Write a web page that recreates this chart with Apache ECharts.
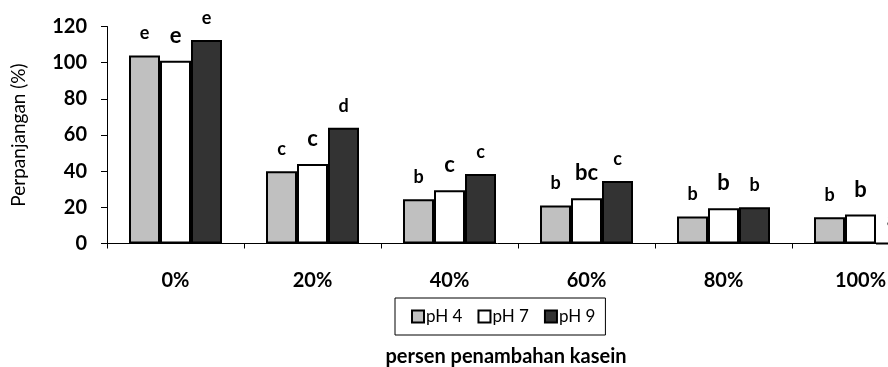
<!DOCTYPE html>
<html>
<head>
<meta charset="utf-8">
<script src="https://cdn.jsdelivr.net/npm/echarts@6/dist/echarts.min.js"></script>
<style>
  html, body { margin: 0; padding: 0; background: #fff; }
  #chart { width: 888px; height: 367px; }
</style>
</head>
<body>
<div id="chart"></div>
<script>
// Casein addition levels (x categories)
const categories = ['0%', '20%', '40%', '60%', '80%', '100%'];

// Elongation (%) per pH
const pH4 = [104, 40, 24.5, 21, 15, 14.5];
const pH7 = [101, 44, 29.5, 25, 19.5, 16];
const pH9 = [112.5, 64, 38.5, 34.5, 20, 0];

// Significance letters above each bar
const letters4 = ['e', 'c', 'b', 'b', 'b', 'b'];
const letters7 = ['e', 'c', 'c', 'bc', 'b', 'b'];
const letters9 = ['e', 'd', 'c', 'c', 'b', 'a'];

// Y axis ticks
const yMin = 0, yMax = 120, yStep = 20;

const FONT = 'Lato, "Open Sans", sans-serif';

function barSeries(name, values, letters, color, labelSize, dist) {
  return {
    name: name,
    type: 'bar',
    data: values,
    barWidth: 31,
    barGap: '0%',
    itemStyle: { color: color, borderColor: '#000', borderWidth: 2 },
    label: {
      show: true,
      position: 'top',
      distance: dist,
      formatter: p => letters[p.dataIndex],
      color: '#000',
      fontFamily: FONT,
      fontSize: labelSize,
      fontWeight: 'bold'
    },
    emphasis: { disabled: true },
    animation: false
  };
}

const chart = echarts.init(document.getElementById('chart'), null, { renderer: 'canvas' });
chart.setOption({
  backgroundColor: '#fff',
  animation: false,
  // plot area runs past the right edge of the canvas (last group is cut off)
  grid: { left: 107, top: 26.5, width: 822, height: 217, outerBoundsMode: 'none', containLabel: false },
  xAxis: {
    type: 'category',
    data: categories,
    axisLine: { lineStyle: { color: '#000', width: 1 } },
    axisTick: { show: true, length: 5, lineStyle: { color: '#000' } },
    axisLabel: { margin: 27, color: '#000', fontFamily: FONT, fontSize: 20, fontWeight: 'bold' },
    splitLine: { show: false }
  },
  yAxis: {
    type: 'value',
    min: yMin,
    max: yMax,
    interval: yStep,
    name: 'Perpanjangan (%)',
    nameLocation: 'middle',
    nameGap: 79,
    nameTextStyle: { color: '#000', fontFamily: FONT, fontSize: 19 },
    axisLine: { show: true, lineStyle: { color: '#000', width: 1 } },
    axisTick: { show: true, length: 6, lineStyle: { color: '#000' } },
    axisLabel: { margin: 20, color: '#000', fontFamily: FONT, fontSize: 20, fontWeight: 'bold' },
    splitLine: { show: false }
  },
  legend: {
    data: ['pH 4', 'pH 7', 'pH 9'],
    left: 395,
    top: 298,
    icon: 'rect',
    itemWidth: 12,
    itemHeight: 12,
    itemGap: 15,
    padding: [10, 10, 10, 16],
    borderColor: '#000',
    borderWidth: 1,
    textStyle: { color: '#000', fontFamily: FONT, fontSize: 17, padding: [0, 0, 0, -3] }
  },
  graphic: [{
    type: 'text',
    style: {
      text: 'persen penambahan kasein',
      x: 506,
      y: 357,
      textAlign: 'center',
      textVerticalAlign: 'middle',
      fill: '#000',
      font: 'bold 20px ' + FONT
    }
  }],
  series: [
    barSeries('pH 4', pH4, letters4, '#c0c0c0', 18, 13),
    barSeries('pH 7', pH7, letters7, '#ffffff', 22, 14),
    barSeries('pH 9', pH9, letters9, '#333333', 18, 13)
  ]
});
</script>
</body>
</html>
